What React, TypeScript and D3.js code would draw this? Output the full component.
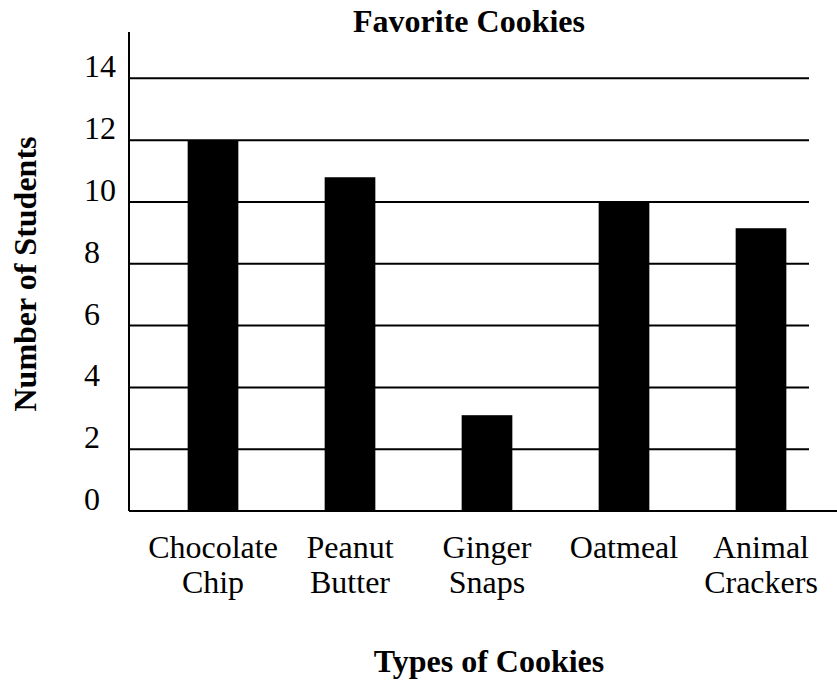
import React from "react";
import * as d3 from "d3";

const categories: string[][] = [
  ["Chocolate", "Chip"],
  ["Peanut", "Butter"],
  ["Ginger", "Snaps"],
  ["Oatmeal"],
  ["Animal", "Crackers"],
];
const values: number[] = [12, 10.8, 3.1, 10, 9.15];
const yTicks: number[] = [0, 2, 4, 6, 8, 10, 12, 14];
const title = "Favorite Cookies";
const xTitle = "Types of Cookies";
const yTitle = "Number of Students";

const W = 837;
const H = 681;
const reg = { fontFamily: "Tinos, Liberation Serif, Times, serif" };
const bold = { fontFamily: "Liberation Serif", fontWeight: "bold" as const };

export default function App() {
  const names = categories.map((c) => c.join(" "));
  const x = d3
    .scaleBand<string>()
    .domain(names)
    .range([144.5, 829.5])
    .paddingInner(0.63)
    .paddingOuter(0.315);
  const y = d3.scaleLinear().domain([0, 15.5]).range([511, 32]);
  const axisX = 129;
  const gridEnd = 809;

  return (
    <svg width={W} height={H} style={{ display: "block", position: "absolute", left: 0, top: 0 }}>
      {yTicks.map((t) => (
        <text key={"t" + t} x={84} y={y(t) - 1} fontSize={32} style={reg}>
          {t}
        </text>
      ))}
      {categories.map((lines, i) => {
        const cx = (x(names[i]) as number) + x.bandwidth() / 2;
        return lines.map((l, j) => (
          <text key={"c" + i + "-" + j} x={cx} y={558 + j * 35} textAnchor="middle" fontSize={32} style={reg}>
            {l}
          </text>
        ));
      })}
      {yTicks
        .filter((t) => t > 0)
        .map((t) => (
          <line key={"g" + t} x1={axisX} x2={gridEnd} y1={y(t)} y2={y(t)} stroke="#000" strokeWidth={2} />
        ))}
      {values.map((v, i) => (
        <rect
          key={"b" + i}
          x={x(names[i])}
          width={x.bandwidth()}
          y={y(v)}
          height={y(0) - y(v)}
          fill="#000"
        />
      ))}
      <line x1={axisX} x2={axisX} y1={y(15.5)} y2={y(0)} stroke="#000" strokeWidth={2} />
      <line x1={axisX} x2={W} y1={y(0)} y2={y(0)} stroke="#000" strokeWidth={2} />
      <text x={469} y={32} textAnchor="middle" fontSize={32} style={bold}>
        {title}
      </text>
      <text x={489} y={672} textAnchor="middle" fontSize={32} style={bold}>
        {xTitle}
      </text>
      <text transform={`translate(36,274) rotate(-90)`} textAnchor="middle" fontSize={32} style={bold}>
        {yTitle}
      </text>
    </svg>
  );
}
